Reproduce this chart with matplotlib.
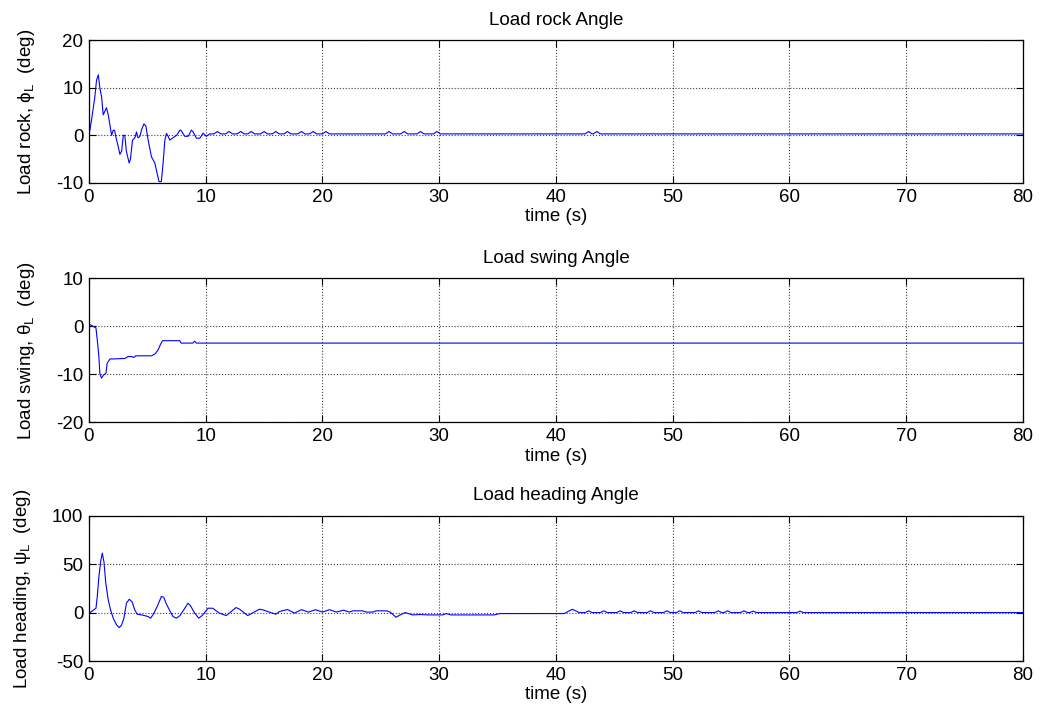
"""
Load angles (rock, swing, heading) over time.
"""

import matplotlib
matplotlib.use("Agg")
import matplotlib.pyplot as plt

plt.rcParams["font.family"] = ["Liberation Sans", "DejaVu Sans"]
plt.rcParams["mathtext.fontset"] = "custom"
plt.rcParams["mathtext.rm"] = "Liberation Sans"
plt.rcParams["mathtext.it"] = "Liberation Sans"
plt.rcParams["axes.unicode_minus"] = False

# rock angle phi_L (deg)
rock_t = [0, 0.22, 0.5, 0.65, 0.8, 0.93, 1.08, 1.22, 1.5, 1.65, 1.94, 2.08, 2.2, 2.3,
          2.5, 2.65, 2.8, 2.94, 3.07, 3.2, 3.44, 3.55, 3.73, 3.94, 4.07, 4.2, 4.35, 4.5,
          4.7, 4.87, 5.07, 5.35, 5.64, 5.84, 6.0, 6.2, 6.35, 6.5, 6.64, 6.8, 6.92, 7.2,
          7.5, 7.8, 7.9, 8.2, 8.5, 8.77, 8.9, 9.2, 9.5, 9.77, 10.05, 10.35, 10.7,
          11.0, 11.3, 11.7, 12.0, 12.3, 12.7, 13.0, 13.3, 13.6, 13.9, 14.2, 14.7, 15.0,
          15.3, 15.7, 16.0, 16.3, 16.7, 17.0, 17.3, 17.9, 18.2, 18.5, 18.9, 19.2, 19.5,
          20.0, 20.3, 20.6, 25.4, 25.7, 26.0, 26.7, 27.0, 27.3, 28.1, 28.4, 28.7, 29.5,
          29.8, 30.1, 42.5, 42.8, 43.1, 43.2, 43.5, 43.8, 80]
rock_y = [0, 3.2, 8, 11.6, 12.7, 10, 8.1, 4.3, 5.8, 4.3, 0, 1.1, 1, -0.3,
          -2.3, -4, -3.3, 0, 0, -3.3, -5.8, -5, -1, -0.5, 0.7, -0.5, -0.3, 1.1,
          2.4, 2, -1, -4.5, -5.8, -8, -9.7, -9.7, -5.8, -1, 0.4, -0.3, -1, -0.5,
          0, 1.1, 1, -0.2, -0.2, 1.1, 0.8, -0.6, -0.6, 0.45, -0.2, 0.3, 0.3,
          0.8, 0.3, 0.3, 0.8, 0.3, 0.3, 0.8, 0.3, 0.3, 0.8, 0.3, 0.3, 0.8,
          0.3, 0.3, 0.8, 0.3, 0.3, 0.8, 0.3, 0.3, 0.8, 0.3, 0.3, 0.8, 0.3,
          0.3, 0.8, 0.3, 0.3, 0.8, 0.3, 0.3, 0.8, 0.3, 0.3, 0.8, 0.3, 0.3,
          0.8, 0.3, 0.3, 0.8, 0.3, 0.3, 0.8, 0.3, 0.3]

# swing angle theta_L (deg)
swing_t = [0, 0.1, 0.6, 0.71, 0.85, 0.93, 1.07, 1.27, 1.45, 1.56, 1.8, 2.08, 3.07,
           3.36, 3.65, 3.85, 4.0, 5.35, 5.64, 5.93, 6.12, 6.3, 7.77, 7.9, 8.9, 9.05,
           9.2, 80]
swing_y = [0.35, 0.35, -0.35, -2.8, -6.3, -9.8, -10.8, -10.1, -9.8, -7.7, -6.8, -6.8, -6.7,
           -6.3, -6.3, -6.5, -6.15, -6.15, -5.8, -4.9, -3.8, -3.0, -3.0, -3.5, -3.5, -3.1,
           -3.5, -3.5]

# heading angle psi_L (deg)
head_t = [0, 0.1, 0.6, 0.71, 0.85, 1.0, 1.14, 1.28, 1.44, 1.65, 1.85, 2.08, 2.36, 2.59,
          2.79, 2.99, 3.21, 3.45, 3.7, 3.92, 4.13, 4.6, 5.07, 5.27, 5.5, 5.84, 6.2, 6.4,
          6.6, 6.92, 7.2, 7.5, 7.8, 8.49, 8.7, 9.06, 9.4, 9.7, 10.2, 10.6, 11.15, 11.76,
          12.6, 12.9, 13.6, 14.6, 14.9, 15.75, 16.0, 16.3, 17.0, 17.6, 18.2, 18.8, 19.4,
          20.0, 20.6, 21.2, 21.8, 22.3, 22.6, 23.4, 23.8, 24.3, 24.6, 25.5, 25.8, 26.3,
          26.8, 27.1, 27.7, 28.4, 29.1, 29.7, 30.3, 30.6, 31.0, 31.8, 32.4, 33.1, 33.8,
          34.7, 35.2, 40.7, 41.4, 42.0, 42.5, 42.8, 43.1, 43.8, 44.1, 44.4, 45.2, 45.5,
          45.8, 46.4, 46.7, 47.0, 47.8, 48.1, 48.4, 49.2, 49.5, 49.8, 50.3, 50.6, 50.9,
          51.9, 52.2, 52.5, 53.6, 53.9, 54.2, 54.4, 54.7, 55.0, 55.8, 56.1, 56.4, 56.6,
          56.9, 57.2, 60.6, 60.9, 61.2, 80]
head_y = [0, 0, 4.5, 16.5, 37, 52.7, 61.4, 52.7, 30.4, 13.1, 2.8, -5.8, -12.7, -15.5,
          -13, -5.8, 9.7, 13.8, 11, 2.8, -1.7, -2.6, -4.1, -5.8, -2, 6.2, 16.5, 16,
          9.7, 2, -4.1, -5.8, -3, 9.7, 7, -0.7, -5.8, -3, 4.5, 4.5, -0.5, -3.1,
          5.2, 3.5, -3.1, 3.5, 2.8, -0.7, -1.7, 1, 3.2, -0.5, 3.0, 0.5, 3.0,
          0.5, 3.0, 0.5, 2.5, 0.5, 1.8, 1.8, 0.5, 0.5, 1.8, 1.8, 0.5, -4.8,
          -1.5, 0, -2.4, -2, -2.4, -2.4, -2.4, -1, -2.4, -2.4, -2.4, -2.4, -2.4,
          -2.4, -1, -1, 3.4, 0, 0, 1.8, 0, 0, 1.8, 0, 0, 1.8,
          0, 0, 1.8, 0, 0, 1.8, 0, 0, 1.8, 0, 0, 1.8, 0,
          0, 1.8, 0, 0, 1.8, 0, 0, 1.8, 0, 0, 1.8, 0, 0,
          1.5, 0, 0, 1.5, 0, 0]

panels = [
    ("Load rock Angle", r"Load rock, $\phi_{\rm L}$  (deg)", rock_t, rock_y, (-10, 20), [-10, 0, 10, 20]),
    ("Load swing Angle", r"Load swing, $\theta_{\rm L}$  (deg)", swing_t, swing_y, (-20, 10), [-20, -10, 0, 10]),
    ("Load heading Angle", r"Load heading, $\psi_{\rm L}$  (deg)", head_t, head_y, (-50, 100), [-50, 0, 50, 100]),
]
xticks = [0, 10, 20, 30, 40, 50, 60, 70, 80]

# axes boxes in figure fraction (left, bottom, width, height)
boxes = [
    (0.0853, 0.7462, 0.8955, 0.1983),
    (0.0853, 0.4143, 0.8955, 0.1997),
    (0.0853, 0.0832, 0.8955, 0.2015),
]

fig = plt.figure(figsize=(10.43, 7.21), dpi=100)

for (title, ylab, t, y, ylim, yticks), box in zip(panels, boxes):
    ax = fig.add_axes(box)
    ax.plot(t, y, color="#0000ff", linewidth=0.8)
    ax.set_xlim(0, 80)
    ax.set_ylim(*ylim)
    ax.set_xticks(xticks)
    ax.set_yticks(yticks)
    ax.grid(True, linestyle=":", color="0.25", linewidth=0.8)
    ax.tick_params(direction="in", top=True, right=True, length=5, width=0.8,
                   labelsize=13.5, pad=4)
    for s in ax.spines.values():
        s.set_linewidth(0.9)
    ax.set_title(title, fontsize=13.5, pad=11)
    ax.set_xlabel("time (s)", fontsize=13.5, labelpad=2)
    ax.set_ylabel(ylab, fontsize=13.5, labelpad=14)

fig.savefig("out.png", dpi=100)
